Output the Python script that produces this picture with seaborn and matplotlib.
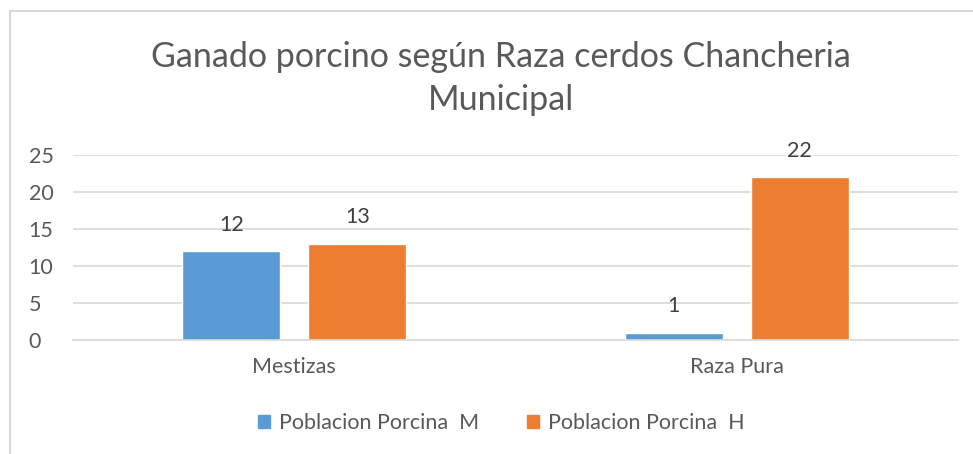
import matplotlib
matplotlib.use("Agg")
import matplotlib.pyplot as plt
import seaborn as sns
import pandas as pd
from matplotlib.patches import Rectangle

categories = ["Mestizas", "Raza Pura"]
series_names = ["Poblacion Porcina  M", "Poblacion Porcina  H"]
values_m = [12, 1]
values_h = [13, 22]
yticks = [0, 5, 10, 15, 20, 25]

df = pd.DataFrame({
    "cat": categories * 2,
    "serie": [series_names[0]] * 2 + [series_names[1]] * 2,
    "val": values_m + values_h,
})

sns.set_theme(style="white")
plt.rcParams["font.family"] = ["Lato", "DejaVu Sans"]
txt = "#595959"
fs = 15.5

fig = plt.figure(figsize=(9.73, 4.54), dpi=100)
ax = fig.add_axes([73/973, 1-340/454, (958-73)/973, (340-155)/454])

sns.barplot(data=df, x="cat", y="val", hue="serie", order=categories,
            hue_order=series_names, palette=["#5B9BD5", "#ED7D31"],
            width=0.57, gap=0.22, ax=ax, legend=False, saturation=1)

ax.set_ylim(0, 25)
ax.set_xlim(-0.5, 1.5)
ax.set_yticks(yticks)
ax.yaxis.grid(True, color="#D9D9D9", linewidth=1.2)
ax.set_axisbelow(True)
for s in ["top", "right", "left"]:
    ax.spines[s].set_visible(False)
ax.spines["bottom"].set_color("#D9D9D9")
ax.spines["bottom"].set_linewidth(1.2)
ax.set_xlabel("")
ax.set_ylabel("")
ax.tick_params(axis="both", length=0, labelsize=fs, colors=txt)
ax.tick_params(axis="x", pad=12)
ax.tick_params(axis="y", pad=32)
for lbl in ax.get_yticklabels():
    lbl.set_horizontalalignment("left")

for cont in ax.containers:
    ax.bar_label(cont, labels=[f"{v:g}" for v in cont.datavalues],
                 padding=12, fontsize=fs, color="#404040")

fig.text(0.515, 1-57/454, "Ganado porcino según Raza cerdos Chancheria",
         ha="center", va="center", fontsize=24.5, color=txt)
fig.text(0.515, 1-100/454, "Municipal",
         ha="center", va="center", fontsize=24.5, color=txt)

handles = [Rectangle((0, 0), 1, 1, color=c) for c in ["#5B9BD5", "#ED7D31"]]
fig.legend(handles, series_names, loc="center", bbox_to_anchor=(0.515, 1-423/454),
           ncol=2, frameon=False, fontsize=fs, labelcolor=txt,
           handlelength=0.6, handleheight=0.6, handletextpad=0.4, columnspacing=2.2)

fig.add_artist(Rectangle((10/973, -0.1), 1.2, 1 - 11/454 + 0.1, transform=fig.transFigure,
                         fill=False, edgecolor="#D9D9D9", linewidth=1.5))

fig.savefig("out.png", dpi=100)
